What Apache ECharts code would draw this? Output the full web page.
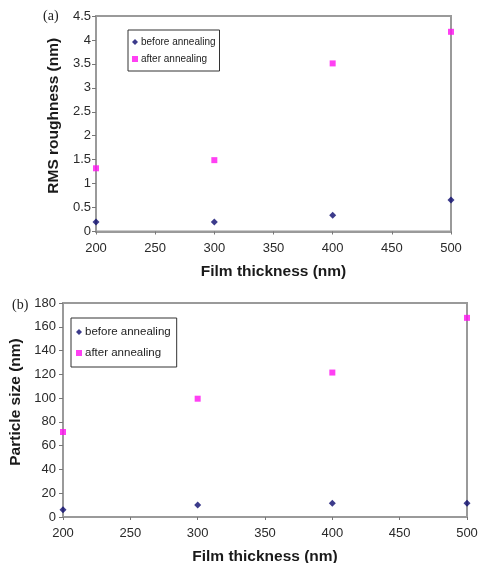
<!DOCTYPE html>
<html><head><meta charset="utf-8">
<script src="https://cdn.jsdelivr.net/npm/echarts@6/dist/echarts.min.js"></script>
<style>html,body{margin:0;padding:0;background:#fff}#c{width:479px;height:563px}</style>
</head><body><div id="c"></div>
<script>
var thickness = [200, 300, 400, 500];
var rmsBefore = [0.2, 0.2, 0.34, 0.66];
var rmsAfter = [1.32, 1.49, 3.51, 4.17];
var sizeBefore = [6, 10, 11.5, 11.5];
var sizeAfter = [71.5, 99.5, 121.5, 167.5];
var seriesNames = ['before annealing', 'after annealing'];

function pairs(xs, ys) { return xs.map(function (x, i) { return [x, ys[i]]; }); }

var chart = echarts.init(document.getElementById('c'), null, {renderer: 'canvas'});
var axisLine = {show: true, lineStyle: {color: '#9a9a9a', width: 2}};
var labelStyle = {color: '#2a2a2a', fontFamily: 'Liberation Sans, Arial', fontSize: 13};
var titleStyle = {color: '#1a1a1a', fontFamily: 'Liberation Sans, Arial', fontSize: 15.5, fontWeight: 'bold'};
var yTitleStyle = Object.assign({}, titleStyle, {padding: [0, 0, 0, 16]});
function xAxis(gi) {
  return {type: 'value', gridIndex: gi, min: 200, max: 500, interval: 50,
    name: 'Film thickness (nm)', nameLocation: 'middle', nameGap: 32, nameTextStyle: titleStyle,
    axisLine: axisLine, axisTick: {show: true, inside: false, length: 3, lineStyle: {color: '#777'}},
    axisLabel: Object.assign({margin: 10}, labelStyle), splitLine: {show: false}};
}
var option = {
  backgroundColor: '#fff',
  animation: false,
  grid: [
    {left: 96, top: 16, right: 28, bottom: 331.5, show: true, borderColor: '#9a9a9a', borderWidth: 2, backgroundColor: '#fff', containLabel: false, outerBoundsMode: 'none'},
    {left: 63, top: 303, right: 12, bottom: 46, show: true, borderColor: '#9a9a9a', borderWidth: 2, backgroundColor: '#fff', containLabel: false, outerBoundsMode: 'none'}
  ],
  xAxis: [xAxis(0), xAxis(1)],
  yAxis: [
    {type: 'value', gridIndex: 0, min: 0, max: 4.5, interval: 0.5,
      name: 'RMS roughness (nm)', nameLocation: 'middle', nameGap: 34, nameTextStyle: yTitleStyle,
      axisLine: axisLine, axisTick: {show: true, length: 4, lineStyle: {color: '#777'}},
      axisLabel: Object.assign({margin: 5}, labelStyle), splitLine: {show: false}},
    {type: 'value', gridIndex: 1, min: 0, max: 180, interval: 20,
      name: 'Particle size (nm)', nameLocation: 'middle', nameGap: 35, nameTextStyle: yTitleStyle,
      axisLine: axisLine, axisTick: {show: true, length: 4, lineStyle: {color: '#777'}},
      axisLabel: Object.assign({margin: 7}, labelStyle), splitLine: {show: false}}
  ],
  legend: [
    {orient: 'vertical', left: 128, top: 30, data: [{name: seriesNames[0], icon: 'diamond'}, {name: seriesNames[1], icon: 'rect'}],
      itemWidth: 6, itemHeight: 6, itemGap: 7, padding: [7, 4, 7, 4], borderColor: '#333', borderWidth: 1,
      textStyle: {fontFamily: 'Liberation Sans, Arial', fontSize: 10, color: '#222', padding: [0, 0, 0, -2]}},
    {orient: 'vertical', left: 71, top: 318, data: [{name: seriesNames[0], icon: 'diamond'}, {name: seriesNames[1], icon: 'rect'}],
      itemWidth: 6, itemHeight: 6, itemGap: 9, padding: [8, 6, 8, 5], borderColor: '#333', borderWidth: 1,
      textStyle: {fontFamily: 'Liberation Sans, Arial', fontSize: 11.5, color: '#222', padding: [0, 0, 0, -2]}}
  ],
  graphic: [
    {type: 'text', left: 43, top: 9, style: {text: '(a)', font: '14px "Liberation Serif", "Times New Roman", serif', fill: '#222'}},
    {type: 'text', left: 12, top: 298, style: {text: '(b)', font: '14px "Liberation Serif", "Times New Roman", serif', fill: '#222'}}
  ],
  series: [
    {name: seriesNames[0], type: 'scatter', xAxisIndex: 0, yAxisIndex: 0, symbol: 'diamond', symbolSize: 7, itemStyle: {color: '#0b0a6e'}, data: pairs(thickness, rmsBefore)},
    {name: seriesNames[1], type: 'scatter', xAxisIndex: 0, yAxisIndex: 0, symbol: 'rect', symbolSize: 6, itemStyle: {color: '#ff10f0'}, data: pairs(thickness, rmsAfter)},
    {name: seriesNames[0], type: 'scatter', xAxisIndex: 1, yAxisIndex: 1, symbol: 'diamond', symbolSize: 7, itemStyle: {color: '#0b0a6e'}, data: pairs(thickness, sizeBefore)},
    {name: seriesNames[1], type: 'scatter', xAxisIndex: 1, yAxisIndex: 1, symbol: 'rect', symbolSize: 6, itemStyle: {color: '#ff10f0'}, data: pairs(thickness, sizeAfter)}
  ]
};
chart.setOption(option);
</script></body></html>
